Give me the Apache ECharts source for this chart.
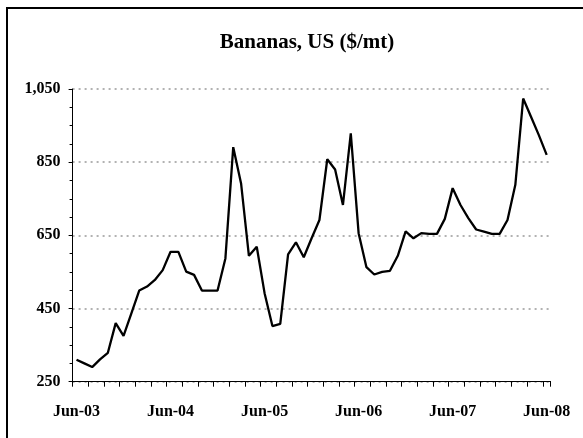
<!DOCTYPE html>
<html>
<head>
<meta charset="utf-8">
<script src="https://cdn.jsdelivr.net/npm/echarts@6/dist/echarts.min.js"></script>
<style>
html,body{margin:0;padding:0;background:#fff;}
#c{width:583px;height:438px;}
</style>
</head>
<body>
<div id="c"></div>
<script>
const months = [];
const monthNames = ['Jan','Feb','Mar','Apr','May','Jun','Jul','Aug','Sep','Oct','Nov','Dec'];
const startYear = 2003, startMonth = 5, monthCount = 61;
for (let k = 0; k < monthCount; k++) {
  const m = (startMonth + k) % 12;
  const y = startYear + Math.floor((startMonth + k) / 12);
  months.push(monthNames[m] + '-' + String(y % 100).padStart(2, '0'));
}
const prices = [
  310, 300, 290, 311, 329, 410, 375, 437, 499, 510, 528, 555,
  605, 605, 551, 542, 499, 499, 499, 587, 891, 792, 594, 619,
  492, 402, 408, 598, 631, 590, 642, 692, 858, 830, 733, 929,
  656, 563, 543, 550, 553, 594, 661, 642, 656, 654, 654, 695,
  779, 733, 697, 666, 660, 654, 654, 692, 788, 1024, 974, 924,
  870
];
const yTicks = [250, 450, 650, 850, 1050];
const titleText = 'Bananas, US ($/mt)';

const chart = echarts.init(document.getElementById('c'));
const labelFont = {fontFamily: '"Liberation Serif", "Times New Roman", serif', fontWeight: 'bold', fontSize: 16, color: '#000'};
chart.setOption({
  animation: false,
  backgroundColor: '#fff',
  title: {
    text: titleText,
    left: 302, top: 27, textAlign: 'center',
    textStyle: {fontFamily: '"Liberation Serif", "Times New Roman", serif', fontWeight: 'bold', fontSize: 21, color: '#000'}
  },
  graphic: [{
    type: 'rect', shape: {x: 7, y: 8, width: 620, height: 460},
    style: {fill: 'none', stroke: '#000', lineWidth: 2}, silent: true
  }],
  grid: {left: 72.6, right: 32.4, top: 89, bottom: 56.3, containLabel: false},
  xAxis: {
    type: 'category',
    data: months,
    boundaryGap: true,
    axisLine: {show: true, lineStyle: {color: '#000', width: 1}},
    axisTick: {show: true, interval: 1, length: 5, lineStyle: {color: '#000', width: 1}},
    axisLabel: Object.assign({interval: 11, margin: 22, formatter: v => v}, labelFont),
    splitLine: {show: false}
  },
  yAxis: {
    type: 'value',
    min: 250, max: 1050, interval: 200,
    axisLine: {show: true, lineStyle: {color: '#000', width: 1}},
    axisTick: {show: true, length: 4, lineStyle: {color: '#000'}},
    minorTick: {show: true, splitNumber: 4, length: 3, lineStyle: {color: '#000'}},
    axisLabel: Object.assign({margin: 12, formatter: v => yTicks.includes(v) ? v.toLocaleString('en-US') : ''}, labelFont),
    splitLine: {show: true, lineStyle: {color: '#999', type: [2, 4], width: 1.5}}
  },
  series: [{
    type: 'line',
    data: prices,
    symbol: 'none',
    lineStyle: {color: '#000', width: 2.3},
    itemStyle: {color: '#000'}
  }]
});
</script>
</body>
</html>
